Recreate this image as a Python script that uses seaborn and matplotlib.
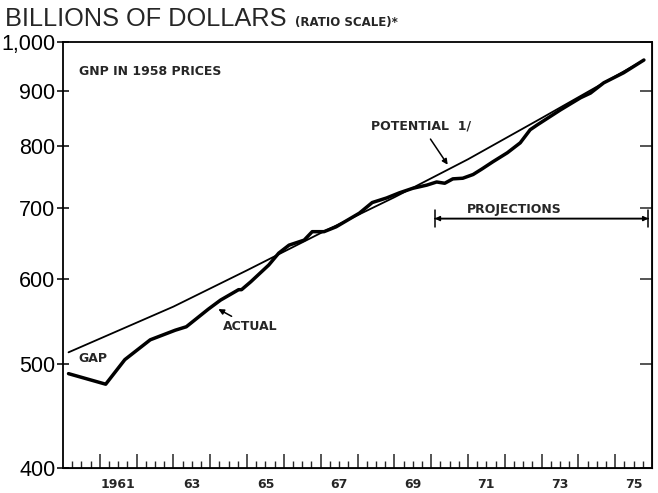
import matplotlib
matplotlib.use("Agg")
import matplotlib.pyplot as plt
import seaborn as sns
import pandas as pd
from matplotlib.ticker import FixedLocator, NullLocator

# ---------------- data ----------------
actual_year = [1960.15, 1961.16, 1961.68, 1962.37, 1963.05, 1963.35, 1963.95, 1964.28,
               1964.77, 1964.85, 1965.10, 1965.59, 1965.86, 1966.14, 1966.55, 1966.77,
               1966.90, 1967.09, 1967.42, 1968.05, 1968.40, 1968.79, 1969.14, 1969.50,
               1969.88, 1970.15, 1970.37, 1970.59, 1970.86, 1971.14, 1971.38, 1971.68,
               1972.07, 1972.42, 1972.69, 1972.89, 1973.51, 1974.06, 1974.33, 1974.69,
               1975.23, 1975.78]
actual_gnp = [490, 479, 505, 527, 538, 542, 563, 574,
              587, 587, 597, 619, 635, 646, 653, 665,
              665, 665, 672, 692, 708, 715, 723, 730,
              735, 740, 738, 745, 746, 752, 761, 773,
              788, 805, 828, 837, 864, 887, 896, 916,
              936, 962]

potential_year = [1960.15, 1963.0, 1965.0, 1967.0, 1969.0, 1971.0, 1973.0, 1975.78]
potential_gnp = [513, 566, 612, 663, 716, 777, 849, 962]

y_ticks = [400, 500, 600, 700, 800, 900, 1000]
y_labels = ["400", "500", "600", "700", "800", "900", "1,000"]
x_label_pos = [1961.5, 1963.5, 1965.5, 1967.5, 1969.5, 1971.5, 1973.5, 1975.5]
x_labels = ["1961", "63", "65", "67", "69", "71", "73", "75"]
year_ticks = list(range(1961, 1976))
quarter_ticks = [1960 + q / 4 for q in range(1, 64)]

df_act = pd.DataFrame({"year": actual_year, "gnp": actual_gnp})
df_pot = pd.DataFrame({"year": potential_year, "gnp": potential_gnp})

# ---------------- style ----------------
sns.set_style("ticks")
plt.rcParams["font.family"] = ["DejaVu Sans"]

fig = plt.figure(figsize=(6.58, 4.93), dpi=100)
ax = fig.add_axes([63 / 658, 25 / 493, 589 / 658, 426 / 493])

sns.lineplot(data=df_pot, x="year", y="gnp", ax=ax, color="black", lw=1.3,
             estimator=None)
sns.lineplot(data=df_act, x="year", y="gnp", ax=ax, color="black", lw=2.5,
             estimator=None)

ax.set_yscale("log")
ax.set_ylim(400, 1000)
ax.set_xlim(1960, 1976)
ax.set_xlabel("")
ax.set_ylabel("")

# y axis
ax.yaxis.set_major_locator(FixedLocator(y_ticks))
ax.yaxis.set_minor_locator(NullLocator())
ax.set_yticklabels(y_labels)
ax.tick_params(axis="y", which="major", direction="inout", length=9, width=1.1,
               labelsize=15.5, pad=1, colors="black")
for lbl in ax.get_yticklabels():
    lbl.set_fontfamily("Liberation Sans")

secy = ax.secondary_yaxis("right")
secy.set_yticks(y_ticks)
secy.yaxis.set_minor_locator(NullLocator())
secy.tick_params(axis="y", which="both", direction="in", length=9, width=1.1,
                 labelright=False)

# x axis: year ticks (long) and quarter ticks (short), pointing inward
ax.xaxis.set_major_locator(FixedLocator(year_ticks))
ax.xaxis.set_minor_locator(FixedLocator(quarter_ticks))
ax.tick_params(axis="x", which="major", direction="in", length=10, width=1.1,
               labelbottom=False)
ax.tick_params(axis="x", which="minor", direction="in", length=5, width=1.0)

secx = ax.secondary_xaxis("bottom")
secx.set_xticks(x_label_pos, x_labels)
secx.tick_params(axis="x", length=0, pad=7, labelsize=9)
for lbl in secx.get_xticklabels():
    lbl.set_fontweight("bold")

for s in ["left", "right", "top", "bottom"]:
    ax.spines[s].set_visible(True)
    ax.spines[s].set_linewidth(1.3)
    ax.spines[s].set_color("black")

# ---------------- texts ----------------
fig.text(5 / 658, 1 - 26 / 493, "BILLIONS OF DOLLARS", fontsize=18.3,
         family="Liberation Sans", ha="left", va="baseline")
fig.text(295 / 658, 1 - 26 / 493, "(RATIO SCALE)*", fontsize=8.5,
         fontweight="bold", ha="left", va="baseline")

ax.text(0.027, 0.93, "GNP IN 1958 PRICES", transform=ax.transAxes, fontsize=9,
        fontweight="bold", ha="left", va="center")
ax.text(1960.81, 506, "GAP", fontsize=9, fontweight="bold", ha="center", va="center")

ax.annotate("POTENTIAL  1/", xy=(1970.45, 768), xytext=(1969.74, 835),
            fontsize=9, fontweight="bold", ha="center", va="center",
            arrowprops=dict(arrowstyle="-|>", color="black", lw=1.1,
                            mutation_scale=8, shrinkA=3, shrinkB=0))
ax.annotate("ACTUAL", xy=(1964.22, 563), xytext=(1965.10, 542),
            fontsize=9, fontweight="bold", ha="center", va="center",
            arrowprops=dict(arrowstyle="-|>", color="black", lw=1.1,
                            mutation_scale=8, shrinkA=1, shrinkB=0))

ax.text(1972.26, 697, "PROJECTIONS", fontsize=9, fontweight="bold",
        ha="center", va="center")
ax.annotate("", xy=(1970.1, 684), xytext=(1975.9, 684),
            arrowprops=dict(arrowstyle="|-|", color="black", lw=1.1,
                            mutation_scale=6, shrinkA=0, shrinkB=0))
ax.annotate("", xy=(1970.1, 684), xytext=(1975.9, 684),
            arrowprops=dict(arrowstyle="<|-|>", color="black", lw=1.1,
                            mutation_scale=7, shrinkA=0, shrinkB=0))

fig.savefig("out.png", dpi=100, facecolor="white")
